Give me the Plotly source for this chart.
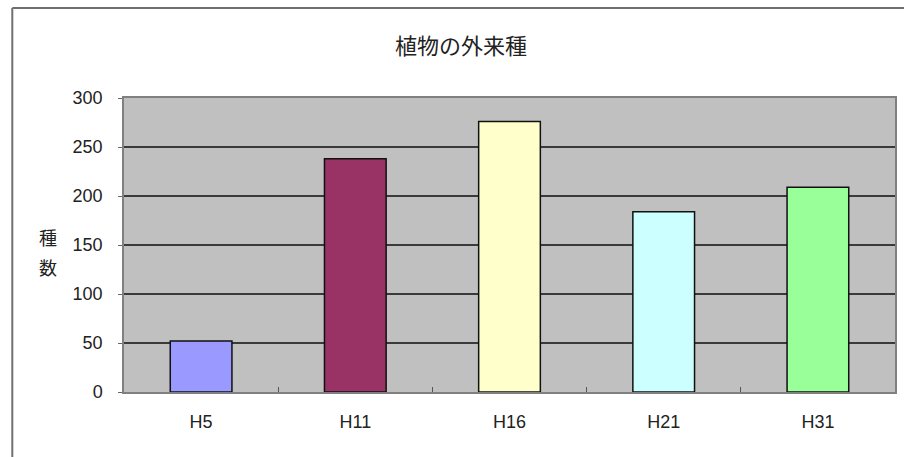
import plotly.graph_objects as go

# Survey years (Heisei era) and number of non-native plant species recorded
years = ["H5", "H11", "H16", "H21", "H31"]
species_counts = [52, 238, 276, 184, 209]
bar_colors = ["#9999FF", "#993366", "#FFFFCC", "#CCFFFF", "#99FF99"]

title_text = "植物の外来種"
y_title = "種数"
y_ticks = [0, 50, 100, 150, 200, 250, 300]

FONT = "Liberation Sans, Noto Sans CJK JP, sans-serif"
JP_FONT = "Noto Sans CJK JP, sans-serif"

fig = go.Figure(
    go.Bar(
        x=years,
        y=species_counts,
        marker=dict(color=bar_colors, line=dict(color="#111111", width=1.5)),
        width=0.4,
        hoverinfo="x+y",
    )
)

fig.update_layout(
    width=904,
    height=457,
    margin=dict(l=124, r=7, t=98, b=65),
    paper_bgcolor="white",
    plot_bgcolor="#C0C0C0",
    showlegend=False,
    font=dict(family=FONT, size=18, color="#222222"),
    title=dict(
        text=title_text,
        x=461 / 904,
        xanchor="center",
        xref="container",
        y=1 - 46 / 457,
        yanchor="middle",
        font=dict(family=JP_FONT, size=22, color="#222222"),
    ),
)

fig.update_xaxes(
    type="category",
    showline=True,
    linecolor="#808080",
    linewidth=1.5,
    mirror=True,
    ticks="inside",
    tickson="boundaries",
    ticklen=5,
    tickcolor="#555555",
    ticklabelstandoff=13,
    tickfont=dict(size=18),
    showgrid=False,
)

fig.update_yaxes(
    range=[0, 300],
    tickvals=y_ticks,
    showline=True,
    linecolor="#808080",
    linewidth=1.5,
    mirror=True,
    ticks="outside",
    ticklen=4,
    tickcolor="#666666",
    ticklabelstandoff=12,
    tickfont=dict(size=18),
    showgrid=True,
    gridcolor="#3a3a3a",
    gridwidth=1.5,
    zeroline=False,
)

# Vertical axis caption written as stacked characters, one per annotation
for ch, py in zip(y_title, [237, 267]):
    fig.add_annotation(
        text=ch,
        xref="paper",
        yref="paper",
        x=(48 - 124) / 773,
        y=(392 - py) / 294,
        xanchor="center",
        yanchor="middle",
        showarrow=False,
        font=dict(family=JP_FONT, size=18, color="#222222"),
    )

# Outer chart frame (left and top edges)
left_x = (12 - 124) / 773
top_y = (392 - 8) / 294
frame = dict(color="#707070", width=2)
fig.add_shape(type="line", xref="paper", yref="paper",
              x0=left_x, x1=left_x, y0=-0.3, y1=top_y, line=frame)
fig.add_shape(type="line", xref="paper", yref="paper",
              x0=left_x, x1=1.05, y0=top_y, y1=top_y, line=frame)

fig.write_html("out.html")
